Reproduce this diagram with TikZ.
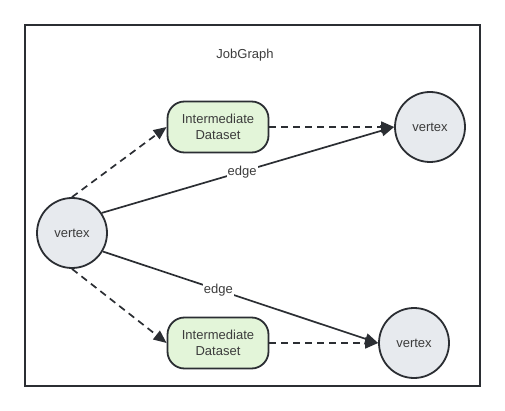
\documentclass[tikz,border=0pt]{standalone}
\usepackage{fontspec}
\setmainfont{Liberation Sans}
\usetikzlibrary{arrows.meta}
\definecolor{ink}{HTML}{2B2E33}
\definecolor{txt}{HTML}{3C3C3C}
\definecolor{vfill}{HTML}{E7EAEE}
\definecolor{dfill}{HTML}{E3F5D9}
\tikzset{
  vert/.style={circle, draw=ink, line width=1.8pt, fill=vfill, minimum size=70pt, inner sep=0pt, text=txt, font=\fontsize{13}{14}\selectfont},
  dset/.style={rectangle, rounded corners=17pt, draw=ink, line width=1.8pt, fill=dfill, minimum width=101pt, minimum height=51pt, inner sep=0pt, align=center, text=txt, font=\fontsize{13}{16}\selectfont},
  conn/.style={draw=ink, line width=1.7pt, -{Triangle[length=13pt,width=11pt]}},
  dconn/.style={conn, dash pattern=on 7pt off 5pt},
  elabel/.style={fill=white, inner sep=1pt, text=txt, font=\fontsize{13}{14}\selectfont},
}
\begin{document}
\begin{tikzpicture}[x=1pt,y=-1pt]
\useasboundingbox (0,0) rectangle (505,411);
\node[draw=ink, line width=2pt, minimum width=455pt, minimum height=361pt, inner sep=0pt] (frame) at (252.5,205.5) {};
\node[text=txt, font=\fontsize{13}{14}\selectfont] (title) at (245,55) {JobGraph};
\node[vert] (lv) at (72,233) {vertex};
\node[vert] (tr) at (430,127) {vertex};
\node[vert] (br) at (414,343) {vertex};
\node[dset] (td) at (218,127) {Intermediate\\Dataset};
\node[dset] (bd) at (218,343) {Intermediate\\Dataset};
\draw[dconn] (lv.north) -- (td.west);
\draw[dconn] (lv.south) -- (bd.west);
\draw[dconn] (td.east) -- (tr.west);
\draw[dconn] (bd.east) -- (br.west);
\draw[conn] (lv.34) -- node[elabel, pos=0.48] (e1) {edge} (tr.west);
\draw[conn] (lv.-31) -- node[elabel, pos=0.42] (e2) {edge} (br.west);
\end{tikzpicture}
\end{document}
